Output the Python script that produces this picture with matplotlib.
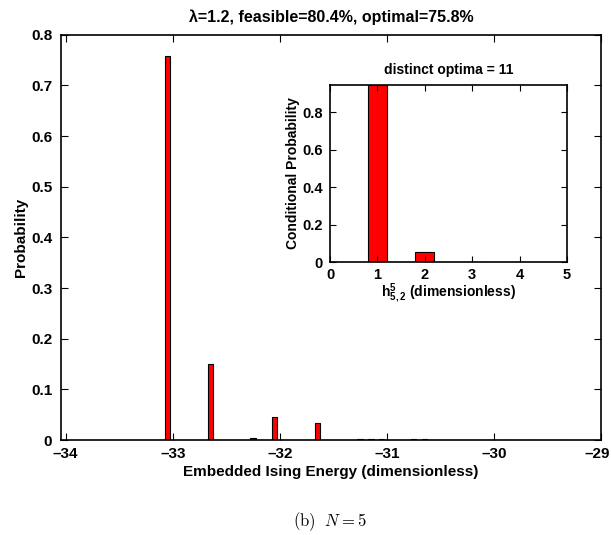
import matplotlib
matplotlib.use("Agg")
import matplotlib.pyplot as plt
import matplotlib.transforms as mtransforms
import numpy as np

plt.rcParams['font.family'] = ['Liberation Sans', 'DejaVu Sans']
plt.rcParams['font.weight'] = 'bold'
plt.rcParams['mathtext.fontset'] = 'custom'
plt.rcParams['mathtext.rm'] = 'Liberation Sans:bold'
plt.rcParams['mathtext.it'] = 'Liberation Sans:bold'
plt.rcParams['mathtext.bf'] = 'Liberation Sans:bold'

# main histogram: embedded Ising energy vs probability
energy = [-33.05, -32.65, -32.25, -32.05, -31.65, -31.25, -31.15, -31.05,
          -30.75, -30.65, -30.35, -30.05, -29.85, -29.65, -29.35]
prob = [0.758, 0.150, 0.004, 0.045, 0.034, 0.002, 0.002, 0.002,
        0.001, 0.002, 0.0006, 0.0006, 0.0006, 0.0006, 0.0006]
xticks = [-34, -33, -32, -31, -30, -29]
yticks = [0, 0.1, 0.2, 0.3, 0.4, 0.5, 0.6, 0.7, 0.8]

# inset: conditional probability over h^5_{5,2}
h_vals = [0, 1, 2, 3, 4, 5]
cond_prob = [0.0, 0.946, 0.053, 0.0, 0.0, 0.0]
inset_yticks = [0, 0.2, 0.4, 0.6, 0.8]

title = "\u03bb=1.2, feasible=80.4%, optimal=75.8%"

W, H = 611, 535
fig = plt.figure(figsize=(W / 100, H / 100), dpi=100)

def box(l, t, r, b):
    return [l / W, 1 - b / H, (r - l) / W, (b - t) / H]

def fmt(v):
    s = ('%g' % abs(v))
    return ('\u2013' + s) if v < 0 else s

ax = fig.add_axes(box(60.7, 34.7, 601, 440))
ax.bar(energy, prob, width=0.05, color='red', edgecolor='black', linewidth=0.8)
ax.set_xlim(-34.047, -29)
ax.set_ylim(0, 0.8)
ax.set_xticks(xticks)
ax.set_xticklabels([fmt(v) for v in xticks])
ax.set_yticks(yticks)
ax.set_yticklabels([fmt(v) for v in yticks])
ax.tick_params(direction='in', top=True, right=True, labelsize=11, length=5, width=0.8)
ax.tick_params(axis='x', pad=5)
ax.tick_params(axis='y', pad=6)
for s in ax.spines.values():
    s.set_linewidth(1.2)
# last x label is pushed left so it stays inside the figure
last = ax.get_xticklabels()[-1]
last.set_transform(last.get_transform() + mtransforms.ScaledTranslation(-4 / 100, 0, fig.dpi_scale_trans))
ax.set_xlabel("Embedded Ising Energy (dimensionless)", fontsize=11, fontweight='bold', labelpad=3)
ax.set_ylabel("Probability", fontsize=11, fontweight='bold', labelpad=2)
ax.set_title(title, fontsize=11.5, fontweight='bold', pad=9)

ins = fig.add_axes(box(330, 85, 567, 262))
ins.bar(h_vals, cond_prob, width=0.4, color='red', edgecolor='black', linewidth=0.8)
ins.set_xlim(0, 5)
ins.set_ylim(0, 0.946)
ins.set_xticks(h_vals)
ins.set_yticks(inset_yticks)
ins.set_yticklabels([fmt(v) for v in inset_yticks])
ins.tick_params(direction='in', top=True, right=True, labelsize=10.5, length=4, width=0.8)
ins.tick_params(axis='x', pad=4)
ins.tick_params(axis='y', pad=5)
for s in ins.spines.values():
    s.set_linewidth(1.2)
ins.set_xlabel(r"$\mathbf{h^5_{5,2}}$ (dimensionless)", fontsize=10, fontweight='bold', labelpad=0)
ins.set_ylabel("Conditional Probability", fontsize=10, fontweight='bold', labelpad=1.5)
ins.set_title("distinct optima = 11", fontsize=10, fontweight='bold', pad=8)

fig.text(330 / W, 1 - 522 / H, r"$\mathrm{(b)}\ \ N = 5$", ha='center', va='center',
         fontsize=12, math_fontfamily='cm')

fig.savefig("out.png", dpi=100, facecolor='white')
